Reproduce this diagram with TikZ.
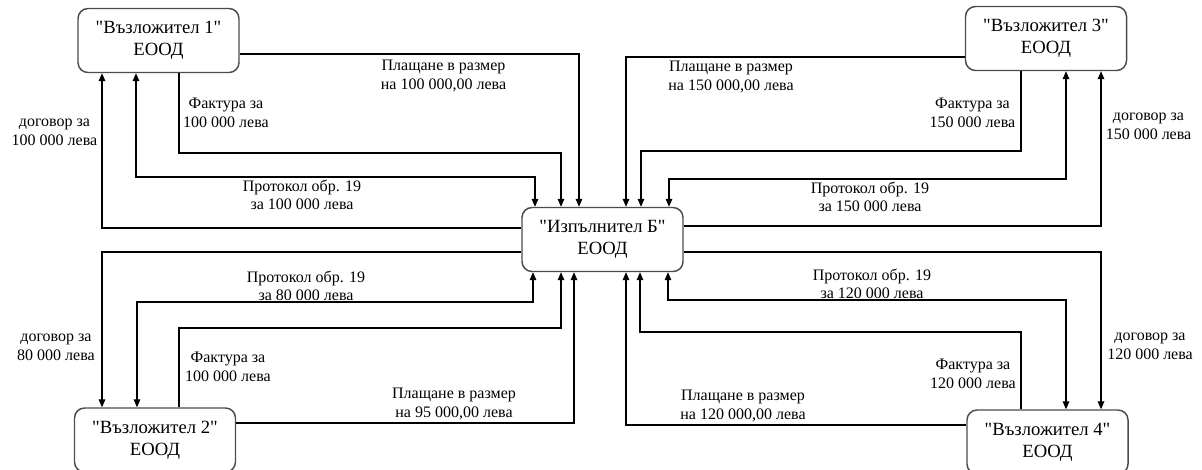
\documentclass[tikz,border=0pt]{standalone}
\usepackage{fontspec}
\setmainfont{Liberation Serif}
\usetikzlibrary{arrows.meta}

\begin{document}
\begin{tikzpicture}[x=0.75pt,y=-0.75pt,
    box/.style={draw=black!70, line width=1.1pt, rounded corners=7.5pt, fill=white,
        minimum width=120.75pt, minimum height=48pt, inner sep=0pt, align=center,
        font=\fontsize{14}{16.5}\selectfont},
    lbl/.style={align=center, inner sep=0pt, font=\fontsize{12}{14}\selectfont},
    link/.style={line width=0.8pt, -{Triangle[length=6pt,width=5pt]}},
    dlink/.style={line width=0.8pt, {Triangle[length=6pt,width=5pt]}-{Triangle[length=6pt,width=5pt]}}]
    \useasboundingbox (0,0) rectangle (1202,469);
    \node[box] (V1) at (158.5,40.5) {\textquotedbl Възложител 1\textquotedbl\\ЕООД};
    \node[box] (V3) at (1046,38.5) {\textquotedbl Възложител 3\textquotedbl\\ЕООД};
    \node[box] (B) at (602.5,239.5) {\textquotedbl Изпълнител Б\textquotedbl\\ЕООД};
    \node[box] (V2) at (155,440) {\textquotedbl Възложител 2\textquotedbl\\ЕООД};
    \node[box] (V4) at (1047.5,442) {\textquotedbl Възложител 4\textquotedbl\\ЕООД};
    % top left
    \draw[link] (B.west |- 0,228) -| (V1.south -| 102,0);
    \draw[dlink] (V1.south -| 136,0) |- (535,177) -- (B.north -| 535,0);
    \draw[link] (V1.south -| 179,0) |- (561,153) -- (B.north -| 561,0);
    \draw[link] (V1.east |- 0,54) -| (B.north -| 579,0);
    % top right
    \draw[link] (V3.west |- 0,57) -| (B.north -| 626,0);
    \draw[link] (V3.south -| 1021,0) |- (641,151) -- (B.north -| 641,0);
    \draw[dlink] (V3.south -| 1066,0) |- (669,179) -- (B.north -| 669,0);
    \draw[link] (B.east |- 0,226) -| (V3.south -| 1101,0);
    % bottom left
    \draw[link] (B.west |- 0,252) -| (V2.north -| 102,0);
    \draw[dlink] (B.south -| 533,0) |- (137,302) -- (V2.north -| 137,0);
    \draw[link] (V2.north -| 179,0) |- (561,328) -- (B.south -| 561,0);
    \draw[link] (V2.east |- 0,423) -| (B.south -| 574,0);
    % bottom right
    \draw[link] (B.east |- 0,252) -| (V4.north -| 1101,0);
    \draw[dlink] (B.south -| 668,0) |- (1066,300) -- (V4.north -| 1066,0);
    \draw[link] (V4.north -| 1021,0) |- (640,332) -- (B.south -| 640,0);
    \draw[link] (V4.west |- 0,425) -| (B.south -| 626,0);
    % labels
    \node[lbl] (tDog1) at (54.5,132) {договор за\\100 000 лева};
    \node[lbl] (tFak1) at (226,113) {Фактура за\\100 000 лева};
    \node[lbl] (tPro1) at (302,195) {Протокол обр. 19\\за 100 000 лева};
    \node[lbl] (tPla1) at (443.5,76) {Плащане в размер\\на 100 000,00 лева};
    \node[lbl] (tPla3) at (731,77) {Плащане в размер\\на 150 000,00 лева};
    \node[lbl] (tFak3) at (972.5,112.5) {Фактура за\\150 000 лева};
    \node[lbl] (tPro3) at (870,197) {Протокол обр. 19\\за 150 000 лева};
    \node[lbl] (tDog3) at (1148.5,126) {договор за\\150 000 лева};
    \node[lbl] (tPro2) at (306,286) {Протокол обр. 19\\за 80 000 лева};
    \node[lbl] (tDog2) at (56,347) {договор за\\80 000 лева};
    \node[lbl] (tFak2) at (228,367) {Фактура за\\100 000 лева};
    \node[lbl] (tPla2) at (454,404) {Плащане в размер\\на 95 000,00 лева};
    \node[lbl] (tPro4) at (872,284) {Протокол обр. 19\\за 120 000 лева};
    \node[lbl] (tDog4) at (1150,346) {договор за\\120 000 лева};
    \node[lbl] (tFak4) at (973,374) {Фактура за\\120 000 лева};
    \node[lbl] (tPla4) at (743,406) {Плащане в размер\\на 120 000,00 лева};
\end{tikzpicture}
\end{document}
